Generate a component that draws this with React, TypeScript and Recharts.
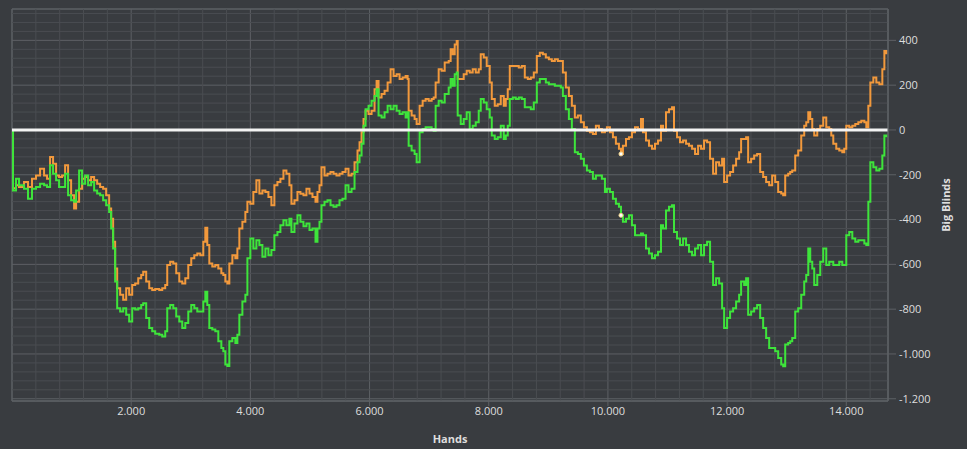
import React from 'react';
import { LineChart, Line, XAxis, YAxis, CartesianGrid, ReferenceLine, ReferenceArea } from 'recharts';

// hands played (x) – shared by both graphs
const hands = [
  0, 17, 67, 118, 202, 269, 336, 403, 471, 538, 588, 639, 689, 740, 790, 840, 891, 941, 992, 1042,
  1076, 1126, 1176, 1227, 1277, 1328, 1378, 1429, 1479, 1529, 1580, 1630, 1664, 1697, 1731, 1765, 1815, 1866, 1916, 1966,
  2017, 2067, 2118, 2168, 2202, 2252, 2303, 2353, 2403, 2471, 2521, 2571, 2605, 2655, 2706, 2756, 2807, 2857, 2908, 2958,
  3008, 3059, 3109, 3160, 3210, 3244, 3277, 3311, 3361, 3412, 3462, 3513, 3546, 3580, 3614, 3647, 3698, 3748, 3782, 3815,
  3866, 3916, 3950, 4000, 4050, 4101, 4151, 4202, 4252, 4303, 4353, 4403, 4454, 4504, 4555, 4605, 4655, 4689, 4740, 4790,
  4840, 4891, 4941, 4992, 5042, 5093, 5126, 5160, 5193, 5244, 5294, 5345, 5395, 5445, 5496, 5546, 5597, 5647, 5698, 5748,
  5798, 5832, 5866, 5899, 5933, 5983, 6034, 6084, 6118, 6151, 6202, 6252, 6303, 6353, 6403, 6454, 6504, 6555, 6605, 6639,
  6656, 6706, 6756, 6790, 6840, 6891, 6941, 6992, 7042, 7076, 7109, 7160, 7210, 7261, 7328, 7361, 7395, 7429, 7462, 7479,
  7530, 7580, 7630, 7681, 7731, 7782, 7832, 7866, 7916, 7966, 8017, 8051, 8101, 8151, 8202, 8252, 8286, 8319, 8353, 8404,
  8454, 8504, 8555, 8605, 8656, 8706, 8756, 8807, 8857, 8908, 8958, 9009, 9059, 9109, 9160, 9210, 9244, 9294, 9345, 9395,
  9445, 9496, 9546, 9597, 9647, 9698, 9748, 9798, 9849, 9899, 9950, 9983, 10034, 10084, 10134, 10185, 10219, 10252, 10303, 10353,
  10403, 10454, 10504, 10555, 10588, 10639, 10689, 10740, 10790, 10841, 10891, 10925, 10975, 11025, 11076, 11109, 11160, 11210, 11261, 11311,
  11361, 11412, 11462, 11513, 11563, 11613, 11664, 11714, 11765, 11815, 11866, 11916, 11950, 12000, 12050, 12101, 12151, 12202, 12235, 12286,
  12319, 12353, 12403, 12454, 12504, 12555, 12605, 12655, 12706, 12756, 12807, 12857, 12908, 12941, 12975, 13025, 13059, 13093, 13143, 13193,
  13244, 13294, 13328, 13362, 13395, 13429, 13462, 13513, 13563, 13613, 13664, 13714, 13748, 13782, 13832, 13882, 13933, 13966, 14000, 14050,
  14101, 14151, 14202, 14252, 14303, 14336, 14370, 14404, 14454, 14504, 14555, 14605, 14639, 14672,
];

// orange graph, big blinds
const orangeBB = [
  0, -260, -247, -255, -232, -255, -218, -203, -173, -203, -218, -121, -151, -203, -210, -203, -158, -225, -292, -351,
  -321, -262, -218, -210, -225, -210, -225, -240, -255, -262, -292, -351, -396, -499, -618, -707, -736, -758, -707, -736,
  -692, -685, -662, -648, -633, -677, -707, -714, -710, -714, -707, -692, -603, -588, -596, -640, -677, -685, -662, -603,
  -573, -559, -551, -559, -499, -437, -514, -596, -610, -603, -618, -640, -648, -677, -685, -596, -559, -573, -529, -440,
  -410, -366, -321, -329, -277, -225, -284, -270, -277, -299, -336, -247, -232, -218, -181, -196, -247, -329, -314, -277,
  -285, -292, -262, -284, -299, -321, -277, -247, -166, -203, -196, -188, -196, -203, -196, -188, -173, -203, -196, -144,
  -92, -55, -10, 49, 86, 71, 86, 182, 219, 145, 160, 175, 212, 271, 241, 249, 227, 234, 241, 227,
  86, 64, 49, 27, 108, 130, 138, 130, 138, 145, 212, 271, 264, 301, 308, 360, 338, 382, 397, 227,
  227, 249, 264, 256, 271, 256, 271, 338, 323, 286, 212, 138, 108, 115, 152, 108, 138, 182, 286, 286,
  286, 279, 286, 234, 227, 234, 256, 330, 345, 338, 323, 316, 308, 316, 308, 308, 256, 190, 152, 108,
  56, 64, 34, 12, -3, -10, -18, 19, 4, -10, -3, 12, -10, -33, -62, -84, -107, -70, -40, -33,
  -10, 12, 4, 49, -10, -47, -70, -84, -62, -47, 19, -3, 79, 93, 101, -3, -33, -55, -47, -62,
  -70, -84, -107, -70, -84, -47, -55, -129, -196, -144, -159, -129, -232, -203, -188, -159, -129, -99, -40, -40,
  -33, -144, -129, -114, -107, -188, -210, -232, -247, -203, -232, -277, -284, -292, -203, -196, -188, -181, -114, -92,
  -25, 19, 34, 79, 49, 4, -25, 4, 19, 56, 12, 4, -25, -62, -84, -92, -99, -84, 19, 12,
  19, 27, 34, 41, 34, 12, 108, 212, 234, 212, 204, 271, 353, 338,
];

// green graph, big blinds
const greenBB = [
  0, -270, -218, -247, -262, -307, -262, -255, -240, -247, -255, -158, -195, -225, -255, -255, -195, -292, -314, -321,
  -270, -181, -240, -203, -247, -232, -270, -284, -292, -314, -336, -366, -440, -529, -677, -796, -810, -796, -825, -855,
  -796, -802, -796, -781, -774, -840, -884, -899, -910, -914, -922, -899, -796, -781, -796, -833, -855, -884, -862, -810,
  -781, -796, -810, -810, -766, -722, -781, -884, -891, -899, -943, -973, -988, -1047, -1054, -943, -929, -951, -914, -825,
  -766, -736, -573, -484, -529, -492, -514, -566, -529, -559, -536, -470, -455, -425, -403, -425, -396, -455, -418, -381,
  -410, -430, -418, -447, -440, -499, -440, -410, -336, -321, -314, -336, -343, -336, -314, -307, -247, -277, -262, -188,
  -144, -114, -62, 19, 93, 108, 130, 152, 182, 64, 56, 79, 108, 93, 108, 86, 71, 79, 56, 79,
  -70, -92, -107, -144, -10, 4, 12, 12, 4, -3, 108, 130, 123, 160, 190, 227, 197, 249, 256, 64,
  27, 49, 79, 4, 19, 34, 86, 138, 123, 93, 56, -25, -40, -32, 19, -40, -25, 19, 138, 145,
  138, 145, 138, 101, 101, 93, 123, 212, 227, 227, 212, 204, 204, 197, 197, 190, 152, 93, 49, 4,
  -99, -107, -129, -159, -181, -188, -218, -203, -203, -218, -277, -262, -277, -307, -329, -343, -381, -410, -396, -381,
  -425, -470, -470, -462, -470, -529, -551, -573, -559, -544, -425, -440, -359, -343, -336, -455, -484, -514, -484, -514,
  -544, -559, -529, -514, -559, -514, -499, -588, -692, -662, -685, -796, -884, -840, -811, -796, -766, -736, -677, -692,
  -662, -825, -810, -796, -781, -840, -884, -929, -973, -973, -988, -1018, -1047, -1055, -958, -951, -943, -929, -810, -796,
  -736, -677, -648, -529, -588, -618, -692, -648, -588, -529, -603, -588, -588, -603, -603, -588, -603, -603, -470, -455,
  -484, -499, -492, -492, -507, -514, -321, -144, -166, -181, -173, -114, -25, -32,
];

const xTicks = [2000, 4000, 6000, 8000, 10000, 12000, 14000];
const yTicks = [400, 200, 0, -200, -400, -600, -800, -1000, -1200];
const xDomain = [0, 14700];
const yDomain = [-1210, 540];
const markerHand = 10219;

// thin grid in between the labelled lines
const xMinor = Array.from({ length: 37 }, (_, i) => i * 400).filter(v => v > 0 && v % 2000 !== 0);
const yMinor = Array.from({ length: 44 }, (_, i) => 520 - i * 40).filter(v => v % 200 !== 0);

const data = hands.map((hand, i) => ({ hand, orange: orangeBB[i], green: greenBB[i] }));

const BG = '#393c40';
const MAJOR = '#5d6064';
const MINOR = '#4a4d51';
const TEXT = '#dedede';
const FONT = '"Open Sans", "DejaVu Sans", sans-serif';

const fmt = (v: number) => {
  const s = Math.abs(v).toString().replace(/\B(?=(\d{3})+(?!\d))/g, '.');
  return v < 0 ? '-' + s : s;
};

const MarkerDot = (props: any) => {
  const { cx, cy, payload, index } = props;
  if (!payload || payload.hand !== markerHand) return <g key={`d-${index}`} />;
  return <circle key={`d-${index}`} cx={cx} cy={cy} r={2} fill="#ffffff" stroke="#f3d58a" strokeWidth={1} />;
};

const YLabel = (props: any) => {
  const { viewBox } = props;
  const x = viewBox.x + viewBox.width - 3;
  const y = viewBox.y + viewBox.height / 2;
  return (
    <text x={x} y={y} transform={`rotate(-90, ${x}, ${y})`} textAnchor="middle" dominantBaseline="central"
      fill={TEXT} fontSize={11} fontWeight="bold" fontFamily={FONT}>
      Big Blinds
    </text>
  );
};

export default function App() {
  return (
    <div style={{ position: 'absolute', left: 0, top: 0, width: 967, height: 449, background: BG, fontFamily: FONT }}>
      <LineChart width={967} height={449} data={data} margin={{ top: 9, right: 19, left: 12, bottom: 0 }}>
        {xMinor.map(v => (
          <ReferenceLine key={`xm-${v}`} x={v} stroke={MINOR} strokeWidth={1} />
        ))}
        {yMinor.map(v => (
          <ReferenceLine key={`ym-${v}`} y={v} stroke={MINOR} strokeWidth={1} />
        ))}
        <CartesianGrid stroke={MAJOR} strokeWidth={1} />
        <ReferenceArea x1={xDomain[0]} x2={xDomain[1]} y1={yDomain[0]} y2={yDomain[1]} fill="none" stroke={MAJOR} strokeWidth={1} />
        {/* minor tick marks, no labels */}
        <XAxis
          xAxisId="minor"
          dataKey="hand"
          type="number"
          domain={xDomain}
          ticks={xMinor}
          allowDataOverflow
          height={0}
          tickSize={5}
          tick={false}
          axisLine={false}
          stroke={MAJOR}
        />
        <YAxis
          yAxisId="minor"
          orientation="right"
          type="number"
          domain={yDomain}
          ticks={yMinor}
          allowDataOverflow
          width={0}
          tickSize={4}
          tick={false}
          axisLine={false}
          stroke={MAJOR}
        />
        <XAxis
          dataKey="hand"
          type="number"
          domain={xDomain}
          ticks={xTicks}
          allowDataOverflow
          tickFormatter={fmt}
          height={48}
          tickSize={5}
          tickMargin={1}
          stroke={MAJOR}
          tick={{ fill: TEXT, fontSize: 11, fontFamily: FONT }}
          label={{ value: 'Hands', position: 'insideBottom', offset: 6, fill: TEXT, fontSize: 11, fontWeight: 'bold', fontFamily: FONT }}
        />
        <YAxis
          orientation="right"
          type="number"
          domain={yDomain}
          ticks={yTicks}
          allowDataOverflow
          tickFormatter={fmt}
          width={60}
          tickSize={8}
          tickMargin={3}
          stroke={MAJOR}
          tick={{ fill: TEXT, fontSize: 11, fontFamily: FONT }}
          label={<YLabel />}
        />
        <Line type="stepAfter" dataKey="orange" stroke="#f2993c" strokeWidth={2} dot={MarkerDot} activeDot={false} isAnimationActive={false} />
        <Line type="stepAfter" dataKey="green" stroke="#3ee43b" strokeWidth={2} dot={MarkerDot} activeDot={false} isAnimationActive={false} />
        <ReferenceLine y={0} stroke="#f4f4f4" strokeWidth={3} />
      </LineChart>
    </div>
  );
}
